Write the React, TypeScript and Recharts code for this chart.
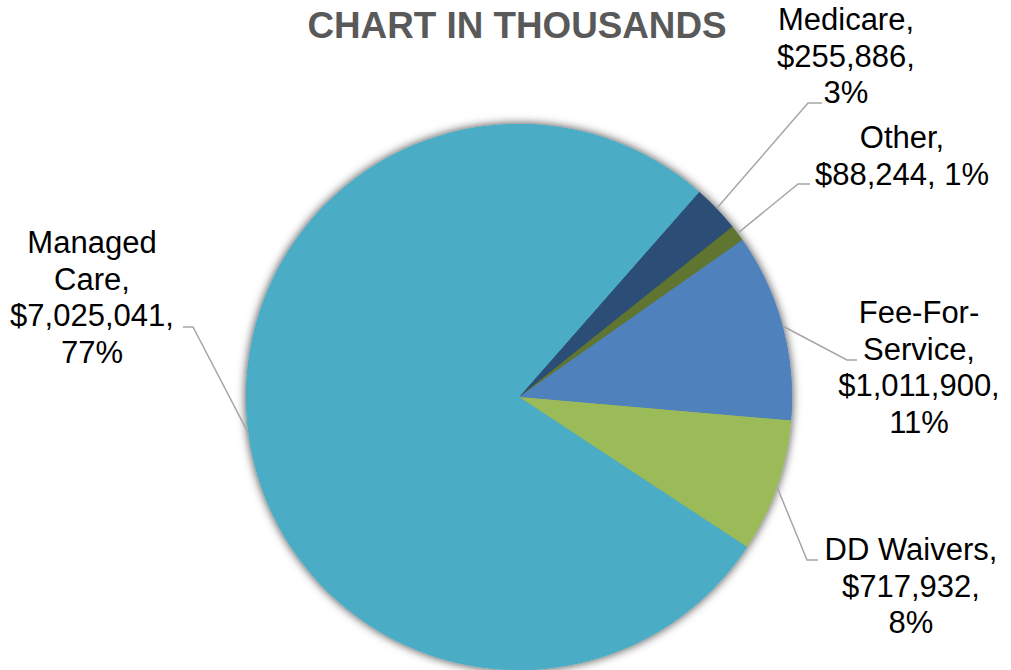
import React from 'react';
import { PieChart, Pie, Cell } from 'recharts';

const categories = ['Medicare', 'Other', 'Fee-For-Service', 'DD Waivers', 'Managed Care'];
const amounts = [255886, 88244, 1011900, 717932, 7025041];
const sliceColors = ['#2C4D75', '#5F7530', '#4F81BD', '#9BBB59', '#4BACC6'];
const chartTitle = 'CHART IN THOUSANDS';

const data = categories.map((name, i) => ({ name, value: amounts[i] }));

// label layout (positions of the text blocks and leader-line elbows)
const LABEL_LAYOUT: Record<string, any> = {
  Medicare: { x: 846, y: 30, nameLines: ['Medicare'], sameLine: false, elbow: [808, 103], end: [822, 103] },
  Other: { x: 902, y: 148, nameLines: ['Other'], sameLine: true, elbow: [798, 184], end: [810, 184] },
  'Fee-For-Service': { x: 919, y: 323, nameLines: ['Fee-For-', 'Service'], sameLine: false, elbow: [847, 360], end: [857, 360] },
  'DD Waivers': { x: 911, y: 560, nameLines: ['DD Waivers'], sameLine: false, elbow: [807, 560], end: [818, 560] },
  'Managed Care': { x: 92, y: 253, nameLines: ['Managed', 'Care'], sameLine: false, elbow: [193, 327], end: [183, 327] },
};

const RAD = Math.PI / 180;
const LINE_H = 36.7;
const FONT = '"Liberation Sans", Arial, sans-serif';

const renderLabel = (props: any) => {
  const { cx, cy, midAngle, outerRadius, percent, index } = props;
  const name = categories[index];
  const value = amounts[index];
  const lay = LABEL_LAYOUT[name];
  if (!lay) return null;
  const sx = cx + outerRadius * Math.cos(-midAngle * RAD);
  const sy = cy + outerRadius * Math.sin(-midAngle * RAD);
  const valStr = '$' + value.toLocaleString('en-US');
  const pctStr = Math.round(percent * 100) + '%';
  const lines: string[] = [];
  lay.nameLines.forEach((l: string, i: number) => {
    lines.push(i === lay.nameLines.length - 1 ? l + ',' : l);
  });
  if (lay.sameLine) {
    lines.push(valStr + ', ' + pctStr);
  } else {
    lines.push(valStr + ',');
    lines.push(pctStr);
  }
  return (
    <g key={`lbl-${index}`}>
      <polyline
        points={`${sx},${sy} ${lay.elbow[0]},${lay.elbow[1]} ${lay.end[0]},${lay.end[1]}`}
        fill="none"
        stroke="#A6A6A6"
        strokeWidth={1.5}
      />
      <text
        x={lay.x}
        y={lay.y}
        textAnchor="middle"
        fontFamily={FONT}
        fontSize={31}
        fill="#000000"
      >
        {lines.map((l, i) => (
          <tspan key={i} x={lay.x} y={lay.y + i * LINE_H}>
            {l}
          </tspan>
        ))}
      </text>
    </g>
  );
};

export default function App() {
  return (
    <div style={{ position: 'absolute', left: 0, top: 0, width: 1011, height: 670, background: '#ffffff', overflow: 'hidden' }}>
      <style>{`.pie-shadow { filter: url(#pieShadow); }`}</style>
      <svg width={0} height={0} style={{ position: 'absolute' }}>
        <defs>
          <filter id="pieShadow" x="-20%" y="-20%" width="140%" height="140%">
            <feDropShadow dx="0" dy="0" stdDeviation="4" floodColor="#000000" floodOpacity="0.4" />
          </filter>
        </defs>
      </svg>
      <PieChart width={1011} height={670} margin={{ top: 0, right: 0, bottom: 0, left: 0 }}>
        <Pie
          className="pie-shadow"
          data={data}
          dataKey="value"
          nameKey="name"
          cx={519}
          cy={397}
          outerRadius={273}
          startAngle={48.7}
          endAngle={-311.3}
          stroke="none"
          labelLine={false}
          label={false}
          isAnimationActive={false}
        >
          {data.map((d, i) => (
            <Cell key={`s-${i}`} fill={sliceColors[i]} stroke="none" />
          ))}
        </Pie>
        <Pie
          data={data}
          dataKey="value"
          nameKey="name"
          cx={519}
          cy={397}
          outerRadius={273}
          startAngle={48.7}
          endAngle={-311.3}
          stroke="none"
          labelLine={false}
          label={renderLabel}
          isAnimationActive={false}
        >
          {data.map((d, i) => (
            <Cell key={`c-${i}`} fill={sliceColors[i]} stroke="none" />
          ))}
        </Pie>
      </PieChart>
      <svg width={1011} height={60} style={{ position: 'absolute', left: 0, top: 0, pointerEvents: 'none' }}>
        <text x={517} y={38} textAnchor="middle" fontFamily={FONT} fontWeight="bold" fontSize={36.8} fill="#595959">
          {chartTitle}
        </text>
      </svg>
    </div>
  );
}
